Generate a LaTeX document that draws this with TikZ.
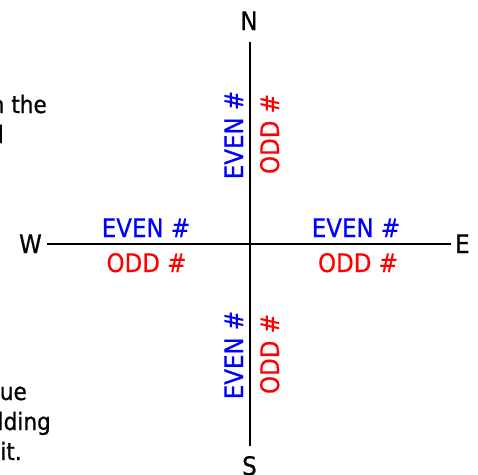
\documentclass[tikz,border=0pt]{standalone}
\usepackage{fontspec}
\setmainfont{DejaVu Sans}[FakeStretch=0.9,FakeBold=0.6]
\begin{document}
\begin{tikzpicture}[x=1pt,y=-1pt,
  lbl/.style={inner sep=0pt,font=\fontsize{25.5pt}{30pt}\selectfont},
  even/.style={lbl,text={rgb,255:red,0;green,0;blue,255}},
  odd/.style={lbl,text={rgb,255:red,255;green,0;blue,0}},
  dir/.style={lbl,text=black},
  frag/.style={inner sep=0pt,anchor=base east,font=\fontsize{24pt}{30pt}\selectfont},
  axis/.style={line width=2pt,black}]
\useasboundingbox (0,0) rectangle (478,474);
% compass letters
\node[dir,anchor=base] (N) at (249,30) {N};
\node[dir,anchor=base] (S) at (249.5,475) {S};
\node[dir,anchor=base east] (W) at (42,253) {W};
\node[dir,anchor=base west] (E) at (455,253) {E};
% axes ends
\coordinate (top) at (249.5,42);
\coordinate (bot) at (249.5,446);
\coordinate (lft) at (47,244);
\coordinate (rgt) at (451,244);
\draw[axis] (top) -- (bot);
\draw[axis] (lft) -- (rgt);
% horizontal labels
\node[even,anchor=base] (ew) at (146,237) {EVEN \#};
\node[odd,anchor=base] (ow) at (146.5,272) {ODD \#};
\node[even,anchor=base] (ee) at (356,237) {EVEN \#};
\node[odd,anchor=base] (oe) at (358,272) {ODD \#};
% vertical labels
\node[even,anchor=base,rotate=90] (en) at (243,135) {EVEN \#};
\node[odd,anchor=base,rotate=90] (on) at (279,134) {ODD \#};
\node[even,anchor=base,rotate=90] (es) at (243,355) {EVEN \#};
\node[odd,anchor=base,rotate=90] (os) at (279,354) {ODD \#};
% clipped text fragments at the left edge
\node[frag] (f1) at (47,113) {n the};
\node[frag] (f2) at (4,143) {l};
\node[frag] (f3) at (27,400) {ue};
\node[frag] (f4) at (51,430) {lding};
\node[frag] (f5) at (22,460) {it.};
\end{tikzpicture}
\end{document}
